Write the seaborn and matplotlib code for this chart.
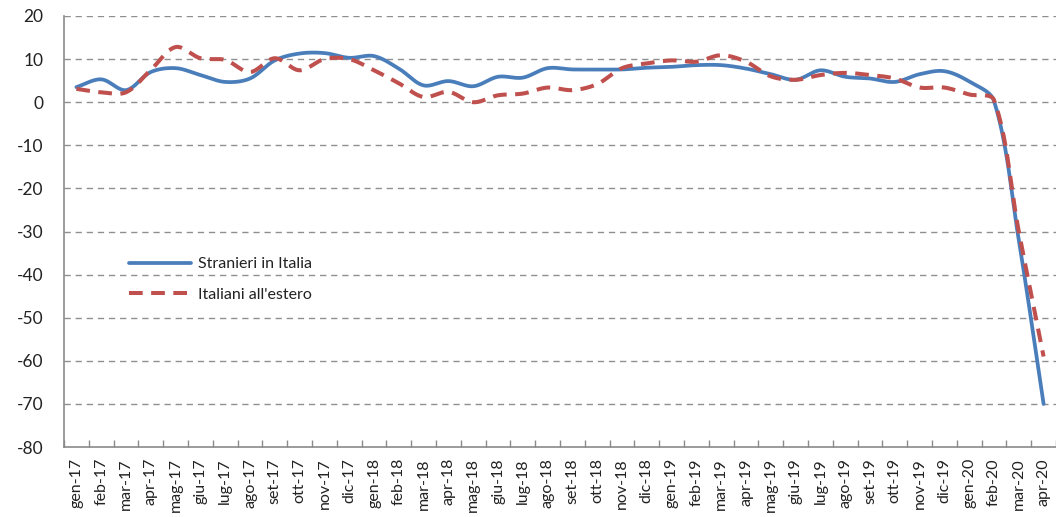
import numpy as np
import matplotlib
matplotlib.use("Agg")
import matplotlib.pyplot as plt
import seaborn as sns

months = [
    "gen-17", "feb-17", "mar-17", "apr-17", "mag-17", "giu-17", "lug-17", "ago-17",
    "set-17", "ott-17", "nov-17", "dic-17",
    "gen-18", "feb-18", "mar-18", "apr-18", "mag-18", "giu-18", "lug-18", "ago-18",
    "set-18", "ott-18", "nov-18", "dic-18",
    "gen-19", "feb-19", "mar-19", "apr-19", "mag-19", "giu-19", "lug-19", "ago-19",
    "set-19", "ott-19", "nov-19", "dic-19",
    "gen-20", "feb-20", "mar-20", "apr-20",
]

stranieri = [
    3.5, 5.3, 2.8, 7.0, 7.9, 6.3, 4.7, 5.5, 9.7, 11.3, 11.4, 10.3,
    10.7, 7.8, 3.9, 4.9, 3.7, 5.9, 5.7, 7.9, 7.6, 7.6, 7.6, 8.0,
    8.2, 8.6, 8.6, 7.8, 6.5, 5.2, 7.4, 5.9, 5.5, 4.7, 6.5, 7.2,
    4.8, 0.3, -32.0, -70.0,
]

italiani = [
    3.1, 2.3, 2.3, 7.5, 12.8, 10.2, 9.8, 7.0, 10.2, 7.4, 10.0, 10.0,
    7.4, 4.4, 1.2, 2.4, 0.0, 1.6, 2.0, 3.4, 2.8, 4.2, 7.9, 9.0,
    9.7, 9.4, 10.9, 9.4, 6.0, 5.2, 6.3, 6.8, 6.3, 5.5, 3.4, 3.4,
    1.8, 0.5, -30.0, -59.0,
]

yticks = list(range(-80, 21, 10))

# display scale used to weight the curve: pixels per category and per y unit
PX_X, PX_Y = 24.8, 4.31


def smooth_curve(values, steps=24, tension=1.0 / 3.0):
    """Bezier curve through every point, control arms weighted by chord length."""
    y = np.asarray(values, dtype=float)
    x = np.arange(len(y), dtype=float)
    pts = np.column_stack([x, y])
    scr = np.column_stack([x * PX_X, y * PX_Y])
    d = np.hypot(*np.diff(scr, axis=0).T)
    n = len(pts)
    out_cp, in_cp = [], []
    for i in range(n):
        prev_p = pts[max(i - 1, 0)]
        next_p = pts[min(i + 1, n - 1)]
        tangent = next_p - prev_p
        d_in = d[i - 1] if i > 0 else 0.0
        d_out = d[i] if i < n - 1 else 0.0
        tot = d_in + d_out if (d_in + d_out) > 0 else 1.0
        out_cp.append(pts[i] + tangent * tension * d_out / tot)
        in_cp.append(pts[i] - tangent * tension * d_in / tot)
    t = np.linspace(0, 1, steps, endpoint=False)[:, None]
    segs = []
    for i in range(n - 1):
        p0, p1, p2, p3 = pts[i], out_cp[i], in_cp[i + 1], pts[i + 1]
        segs.append((1 - t) ** 3 * p0 + 3 * (1 - t) ** 2 * t * p1
                    + 3 * (1 - t) * t ** 2 * p2 + t ** 3 * p3)
    segs.append(pts[-1:])
    curve = np.vstack(segs)
    return curve[:, 0], curve[:, 1]


sns.set_theme(style="white")
plt.rcParams["font.family"] = ["Lato", "DejaVu Sans"]

fig = plt.figure(figsize=(10.56, 5.17), dpi=100)
ax = fig.add_axes([64 / 1056, 1 - 447 / 517, 992 / 1056, 431 / 517])

grid_color = "#8f8f8f"
for v in yticks[1:]:
    ax.axhline(v, color=grid_color, lw=1.0, ls=(0, (4.5, 3.5)), zorder=0)

xb, yb = smooth_curve(stranieri)
xr, yr = smooth_curve(italiani)

sns.lineplot(x=xb, y=yb, ax=ax, color="#4a7ebb", lw=2.7, sort=False,
             estimator=None, label="Stranieri in Italia", zorder=3)
sns.lineplot(x=xr, y=yr, ax=ax, color="#c0504d", lw=2.9, sort=False,
             estimator=None, label="Italiani all'estero", zorder=4)
ax.lines[-1].set_dashes((3.4, 2.1))

ax.set_xlim(-0.5, len(months) - 0.5)
ax.set_ylim(-80, 20)
ax.set_yticks(yticks)
ax.set_yticklabels([str(v) for v in yticks])

# tick marks at category boundaries, labels at category centres
ax.set_xticks(np.arange(-0.5, len(months), 1.0))
ax.set_xticklabels([])
ax.set_xticks(np.arange(len(months)), minor=True)
ax.set_xticklabels(months, minor=True, rotation=90, fontsize=11.5, color="#222222")
ax.tick_params(axis="x", which="major", direction="in", length=5, width=1,
               color="#8a8a8a", bottom=True)
ax.tick_params(axis="x", which="minor", length=0, pad=8)
ax.tick_params(axis="y", length=0, pad=15, labelsize=12.5, labelcolor="#222222")

for side in ("top", "right"):
    ax.spines[side].set_visible(False)
for side in ("left", "bottom"):
    ax.spines[side].set_color("#8a8a8a")
    ax.spines[side].set_linewidth(1.2)

ax.set_xlabel("")
ax.set_ylabel("")

leg = ax.legend(loc="upper left", bbox_to_anchor=(0.059, 0.455), frameon=False,
                fontsize=11.5, handlelength=3.9, handletextpad=0.4,
                labelspacing=1.0, borderaxespad=0)
for t in leg.get_texts():
    t.set_color("#222222")

fig.savefig("out.png", dpi=100)
